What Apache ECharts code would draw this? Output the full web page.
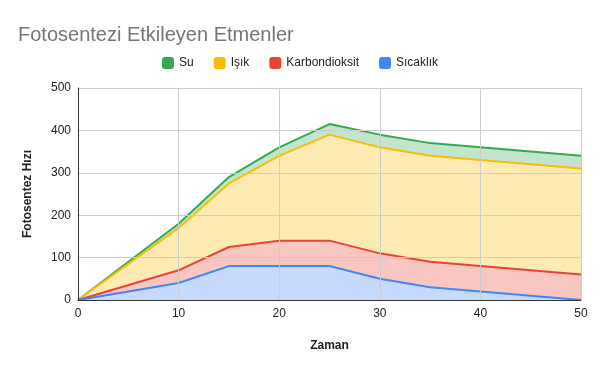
<!DOCTYPE html>
<html><head><meta charset="utf-8">
<script src="https://cdn.jsdelivr.net/npm/echarts@6/dist/echarts.min.js"></script>
<style>html,body{margin:0;padding:0;background:#fff}#c{width:600px;height:371px}</style>
</head><body><div id="c"></div>
<script>
const zaman = [0, 10, 15, 20, 25, 30, 35, 40, 50];
const sicaklik = [0, 40, 80, 80, 80, 50, 30, 20, 0];
const karbondioksit = [0, 30, 45, 60, 60, 60, 60, 60, 60];
const isik = [0, 100, 150, 200, 250, 250, 250, 250, 250];
const su = [0, 10, 15, 20, 25, 30, 30, 30, 30];
const yTicks = [0, 100, 200, 300, 400, 500];
const xTicks = [0, 10, 20, 30, 40, 50];

const font = '"Liberation Sans", Arial, sans-serif';
// stacking order bottom -> top
const layers = [
  { name: 'Sıcaklık', vals: sicaklik, color: '#4285f4', fill: '#c6dafc' },
  { name: 'Karbondioksit', vals: karbondioksit, color: '#ea4335', fill: '#f9c7c2' },
  { name: 'Işık', vals: isik, color: '#fbbc04', fill: '#feebb4' },
  { name: 'Su', vals: su, color: '#34a853', fill: '#c2e5cb' }
];
let acc = zaman.map(() => 0);
const series = layers.map((l, k) => {
  acc = acc.map((a, i) => a + l.vals[i]);
  return {
    name: l.name, type: 'line', symbol: 'none', smooth: false,
    z: 10 - k,
    data: zaman.map((x, i) => [x, acc[i]]),
    lineStyle: { color: l.color, width: 2 },
    itemStyle: { color: l.color },
    areaStyle: { color: l.fill, opacity: 1 }
  };
});
const chart = echarts.init(document.getElementById('c'));
chart.setOption({
  animation: false,
  textStyle: { fontFamily: font },
  title: { text: 'Fotosentezi Etkileyen Etmenler', left: 13, top: 20,
    textStyle: { fontSize: 20, fontWeight: 'normal', color: '#757575', fontFamily: font } },
  legend: { top: 52, left: 'center', itemWidth: 12, itemHeight: 12, itemGap: 20,
    icon: 'roundRect',
    data: ['Su', 'Işık', 'Karbondioksit', 'Sıcaklık'],
    textStyle: { fontSize: 12, color: '#222', fontFamily: font } },
  grid: { left: 78, right: 19, top: 88, bottom: 71 },
  xAxis: {
    type: 'value', min: xTicks[0], max: xTicks[xTicks.length - 1], interval: 10,
    name: 'Zaman', nameLocation: 'middle', nameGap: 40,
    nameTextStyle: { fontWeight: 'bold', fontSize: 12, color: '#222', fontFamily: font },
    axisLine: { show: true, lineStyle: { color: '#333', width: 1 } },
    axisTick: { show: false },
    axisLabel: { color: '#222', fontSize: 12, margin: 8 },
    splitLine: { show: true, lineStyle: { color: '#ccc' } },
    z: 20
  },
  yAxis: {
    type: 'value', min: yTicks[0], max: yTicks[yTicks.length - 1], interval: 100,
    name: 'Fotosentez Hızı', nameLocation: 'middle', nameGap: 44,
    nameTextStyle: { fontWeight: 'bold', fontSize: 12, color: '#222', fontFamily: font },
    axisLine: { show: true, lineStyle: { color: '#333', width: 1 } },
    axisTick: { show: false },
    axisLabel: { color: '#222', fontSize: 12, margin: 7 },
    splitLine: { show: true, lineStyle: { color: '#ccc' } },
    z: 20
  },
  series
});
</script></body></html>
